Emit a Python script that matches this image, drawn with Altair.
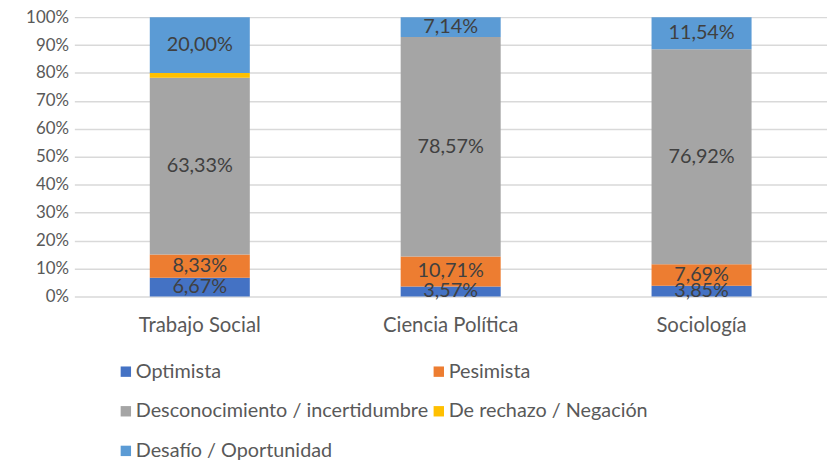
import altair as alt
import pandas as pd

categories = ["Trabajo Social", "Ciencia Política", "Sociología"]
series = ["Optimista", "Pesimista", "Desconocimiento / incertidumbre",
          "De rechazo / Negación", "Desafío / Oportunidad"]
optimista = [6.67, 3.57, 3.85]
pesimista = [8.33, 10.71, 7.69]
desconocimiento = [63.33, 78.57, 76.92]
rechazo = [1.67, 0.0, 0.0]
desafio = [20.00, 7.14, 11.54]
colors = ["#4472C4", "#ED7D31", "#A5A5A5", "#FFC000", "#5B9BD5"]

rows = []
for si, (name, vals) in enumerate(zip(series, [optimista, pesimista, desconocimiento, rechazo, desafio])):
    for ci, cat in enumerate(categories):
        v = vals[ci]
        rows.append({"cat": cat, "serie": name, "ord": si, "value": v,
                     "label": f"{v:.2f}".replace(".", ",") + "%"})
df = pd.DataFrame(rows)

FONT = "Lato"

base = alt.Chart(df).transform_stack(
    stack="value", as_=["y0", "y1"], groupby=["cat"],
    sort=[alt.SortField("ord", order="ascending")]
).transform_calculate(mid="(datum.y0 + datum.y1) / 2")

xaxis = alt.Axis(labelAngle=0, domain=False, ticks=False, labelPadding=19,
                 labelFontSize=20.5, labelColor="#595959", labelFont=FONT, grid=False)
yaxis = alt.Axis(values=list(range(0, 101, 10)), labelExpr="datum.value + '%'",
                 domain=False, ticks=False, labelPadding=6, labelFontSize=17,
                 labelColor="#595959", labelFont=FONT, gridColor="#D9D9D9",
                 gridWidth=1.5, labelOverlap=False)
yscale = alt.Scale(domain=[0, 100], nice=False)

bars = base.transform_filter("datum.value > 0").mark_bar(size=101).encode(
    x=alt.X("cat:N", sort=categories, title=None, axis=xaxis),
    y=alt.Y("y0:Q", scale=yscale, title=None, axis=yaxis),
    y2="y1:Q",
    color=alt.Color("serie:N", scale=alt.Scale(domain=series, range=colors), title=None,
                    legend=alt.Legend(orient="none", legendX=42, legendY=348, columns=2,
                                      direction="horizontal",
                                      symbolType="square", symbolSize=110, symbolStrokeWidth=0,
                                      labelFontSize=20, labelFont=FONT, labelColor="#595959",
                                      rowPadding=20, columnPadding=0, labelOffset=0,
                                      labelLimit=400)),
    order=alt.Order("ord:Q"),
)

text = base.transform_filter("datum.value >= 3").mark_text(
    fontSize=20, font=FONT, color="#404040", baseline="middle"
).encode(x=alt.X("cat:N", sort=categories, title=None, axis=xaxis),
         y=alt.Y("mid:Q", scale=yscale, title=None, axis=yaxis),
         text="label:N")

chart = alt.layer(bars, text).properties(
    width=760, height=282,
    autosize=alt.AutoSizeParams(type="none"),
    padding={"left": 67, "top": 7, "right": 0, "bottom": 165},
).configure_view(stroke=None)

chart.save("out.html", embed_options={"renderer": "svg", "actions": False})
